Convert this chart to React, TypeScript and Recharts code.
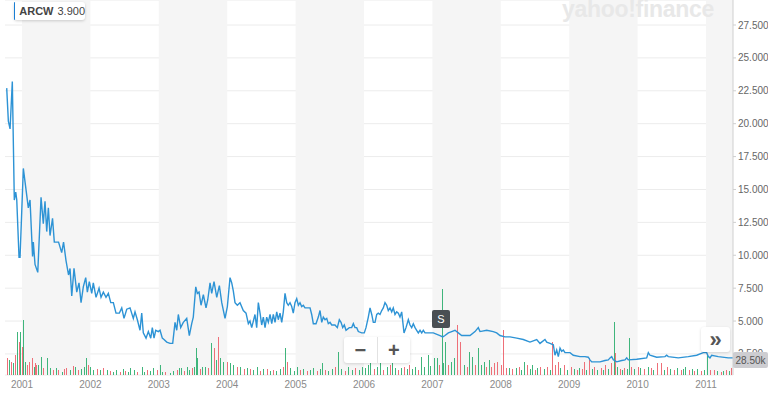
import { ComposedChart, Line, Bar, XAxis, YAxis, CartesianGrid, ReferenceArea } from 'recharts'

// weekly closes, time in decimal years
const priceDates = [
  2000.776, 2000.8, 2000.825, 2000.858, 2000.887, 2000.908, 2000.923, 2000.956, 2000.971, 2001.019,
  2001.092, 2001.117, 2001.154, 2001.165, 2001.19, 2001.23, 2001.278, 2001.311, 2001.336, 2001.361,
  2001.385, 2001.409, 2001.446, 2001.472, 2001.534, 2001.58, 2001.607, 2001.643, 2001.68, 2001.702,
  2001.727, 2001.76, 2001.8, 2001.833, 2001.863, 2001.896, 2001.931, 2001.955, 2001.984, 2002.019,
  2002.042, 2002.082, 2002.126, 2002.155, 2002.189, 2002.228, 2002.262, 2002.297, 2002.335, 2002.374,
  2002.423, 2002.458, 2002.491, 2002.531, 2002.579, 2002.627, 2002.652, 2002.686, 2002.725, 2002.75,
  2002.773, 2002.813, 2002.847, 2002.882, 2002.905, 2002.93, 2002.955, 2002.993, 2003.018, 2003.051,
  2003.076, 2003.116, 2003.164, 2003.203, 2003.237, 2003.262, 2003.285, 2003.32, 2003.358, 2003.408,
  2003.446, 2003.481, 2003.504, 2003.54, 2003.563, 2003.588, 2003.617, 2003.651, 2003.69, 2003.715,
  2003.749, 2003.773, 2003.807, 2003.847, 2003.885, 2003.92, 2003.968, 2004.002, 2004.041, 2004.066,
  2004.089, 2004.114, 2004.148, 2004.187, 2004.235, 2004.275, 2004.309, 2004.333, 2004.358, 2004.382,
  2004.406, 2004.431, 2004.455, 2004.48, 2004.504, 2004.528, 2004.553, 2004.577, 2004.601, 2004.626,
  2004.651, 2004.674, 2004.699, 2004.724, 2004.747, 2004.772, 2004.797, 2004.82, 2004.845, 2004.87,
  2004.893, 2004.918, 2004.943, 2004.966, 2004.991, 2005.016, 2005.04, 2005.064, 2005.089, 2005.113,
  2005.137, 2005.211, 2005.235, 2005.259, 2005.298, 2005.332, 2005.357, 2005.382, 2005.405, 2005.43,
  2005.455, 2005.478, 2005.503, 2005.528, 2005.576, 2005.61, 2005.639, 2005.664, 2005.689, 2005.712,
  2005.737, 2005.785, 2005.82, 2005.844, 2005.868, 2005.893, 2005.917, 2005.966, 2006.004, 2006.029,
  2006.063, 2006.088, 2006.113, 2006.136, 2006.161, 2006.186, 2006.209, 2006.234, 2006.259, 2006.282,
  2006.307, 2006.332, 2006.355, 2006.38, 2006.405, 2006.428, 2006.453, 2006.478, 2006.502, 2006.526,
  2006.551, 2006.585, 2006.614, 2006.648, 2006.673, 2006.697, 2006.721, 2006.746, 2006.77, 2006.794,
  2006.819, 2006.844, 2006.867, 2006.892, 2007.013, 2007.111, 2007.151, 2007.184, 2007.233, 2007.282,
  2007.33, 2007.379, 2007.428, 2007.55, 2007.623, 2007.671, 2007.696, 2007.794, 2007.89, 2007.94,
  2007.988, 2008.061, 2008.135, 2008.233, 2008.329, 2008.427, 2008.525, 2008.573, 2008.646, 2008.671,
  2008.719, 2008.768, 2008.792, 2008.817, 2008.841, 2008.866, 2008.89, 2008.914, 2008.939, 2009.012,
  2009.06, 2009.158, 2009.231, 2009.279, 2009.304, 2009.329, 2009.45, 2009.523, 2009.572, 2009.597,
  2009.621, 2009.645, 2009.695, 2009.768, 2009.816, 2009.841, 2009.864, 2009.987, 2010.133, 2010.157,
  2010.181, 2010.279, 2010.401, 2010.425, 2010.449, 2010.595, 2010.741, 2010.864, 2010.961, 2011.01,
  2011.034, 2011.058, 2011.083, 2011.18, 2011.326, 2011.395,
]

const prices = [
  22.7, 20.2, 19.6, 23.2, 14.2, 14.8, 14.2, 9.85, 9.85, 16.6,
  13.6, 14.2, 9.9, 11.0, 9.3, 8.7, 14.4, 12.4, 14.1, 11.8,
  13.6, 11.5, 12.8, 11.0, 11.0, 10.2, 11.0, 9.6, 8.5, 9.0,
  6.9, 9.0, 7.2, 7.9, 6.4, 7.6, 8.3, 7.2, 8.0, 7.1,
  7.9, 6.8, 7.5, 6.8, 7.2, 6.8, 7.1, 6.4, 6.4, 5.6,
  5.6, 6.0, 5.2, 5.9, 6.0, 5.2, 5.7, 5.1, 4.3, 5.6,
  4.1, 3.7, 4.2, 3.7, 4.5, 3.7, 4.3, 4.2, 4.3, 3.7,
  3.6, 3.4, 3.3, 3.3, 4.9, 4.3, 5.5, 4.5, 4.9, 5.2,
  3.9, 4.8, 5.3, 7.6, 7.1, 7.2, 6.2, 7.0, 6.0, 6.6,
  7.9, 7.1, 8.0, 6.8, 7.7, 6.4, 5.2, 6.1, 8.3, 7.9,
  7.3, 6.4, 6.2, 6.4, 5.8, 5.6, 4.8, 5.0, 4.5, 5.0,
  5.5, 4.5, 6.4, 5.6, 4.7, 5.3, 4.5, 5.3, 4.9, 5.5,
  4.8, 5.5, 4.9, 5.7, 5.1, 5.6, 4.9, 5.7, 7.1, 6.4,
  6.2, 6.4, 6.1, 5.6, 6.4, 6.7, 6.2, 6.4, 6.1, 6.2,
  6.0, 6.0, 5.5, 4.8, 4.8, 5.3, 5.8, 4.9, 5.3, 5.1,
  5.2, 4.8, 4.9, 4.7, 4.7, 4.5, 5.1, 4.9, 4.5, 4.7,
  4.3, 4.5, 4.5, 4.8, 4.5, 4.5, 4.2, 4.1, 4.1, 4.5,
  5.3, 6.0, 5.5, 4.9, 4.9, 5.5, 5.6, 5.5, 5.8, 6.0,
  6.4, 6.2, 5.8, 6.0, 5.7, 6.0, 5.5, 5.7, 5.6, 5.3,
  5.7, 4.1, 4.5, 5.1, 4.7, 4.5, 4.8, 4.5, 4.3, 4.1,
  4.3, 4.1, 4.3, 4.1, 4.1, 3.9, 3.8, 3.9, 4.1, 4.2,
  4.3, 4.1, 3.9, 3.9, 4.2, 4.5, 4.2, 4.3, 4.2, 4.1,
  3.9, 3.8, 3.8, 3.7, 3.6, 3.4, 3.6, 3.3, 3.6, 3.4,
  3.3, 3.2, 2.4, 2.8, 2.3, 2.95, 2.7, 2.8, 2.6, 2.6,
  2.4, 2.3, 2.3, 2.25, 2.05, 1.9, 1.9, 2.0, 2.05, 2.2,
  2.3, 2.05, 1.9, 2.0, 2.05, 2.2, 2.05, 2.1, 2.2, 2.6,
  2.4, 2.25, 2.3, 2.4, 2.3, 2.2, 2.3, 2.4, 2.6, 2.6,
  2.3, 2.2, 2.4, 2.3, 2.2, 2.2,
]

const volDates = [
  2000.78, 2000.81, 2000.84, 2000.87, 2000.9, 2000.92, 2000.95, 2000.97, 2001.0, 2001.02,
  2001.04, 2001.07, 2001.1, 2001.14, 2001.17, 2001.19, 2001.21, 2001.24, 2001.28, 2001.31,
  2001.36, 2001.41, 2001.46, 2001.5, 2001.53, 2001.58, 2001.61, 2001.65, 2001.7, 2001.74,
  2001.77, 2001.82, 2001.86, 2001.9, 2001.94, 2001.97, 2001.99, 2002.04, 2002.09, 2002.14,
  2002.18, 2002.24, 2002.29, 2002.33, 2002.38, 2002.43, 2002.48, 2002.51, 2002.55, 2002.58,
  2002.63, 2002.68, 2002.75, 2002.78, 2002.82, 2002.87, 2002.92, 2002.97, 2003.02, 2003.05,
  2003.09, 2003.16, 2003.21, 2003.26, 2003.3, 2003.33, 2003.37, 2003.41, 2003.44, 2003.48,
  2003.51, 2003.54, 2003.56, 2003.6, 2003.63, 2003.68, 2003.72, 2003.76, 2003.8, 2003.83,
  2003.87, 2003.89, 2003.94, 2003.99, 2004.04, 2004.09, 2004.14, 2004.19, 2004.24, 2004.29,
  2004.33, 2004.38, 2004.43, 2004.48, 2004.53, 2004.58, 2004.63, 2004.67, 2004.72, 2004.77,
  2004.82, 2004.85, 2004.87, 2004.92, 2004.97, 2005.02, 2005.06, 2005.11, 2005.16, 2005.21,
  2005.26, 2005.31, 2005.36, 2005.38, 2005.43, 2005.48, 2005.53, 2005.58, 2005.62, 2005.67,
  2005.72, 2005.77, 2005.82, 2005.87, 2005.92, 2005.97, 2006.01, 2006.06, 2006.09, 2006.14,
  2006.19, 2006.23, 2006.28, 2006.33, 2006.38, 2006.41, 2006.45, 2006.5, 2006.54, 2006.58,
  2006.63, 2006.66, 2006.7, 2006.75, 2006.79, 2006.83, 2006.88, 2006.93, 2006.97, 2007.02,
  2007.07, 2007.1, 2007.14, 2007.16, 2007.19, 2007.23, 2007.27, 2007.32, 2007.36, 2007.41,
  2007.46, 2007.5, 2007.54, 2007.58, 2007.62, 2007.66, 2007.71, 2007.75, 2007.79, 2007.83,
  2007.86, 2007.9, 2007.95, 2008.0, 2008.03, 2008.08, 2008.12, 2008.16, 2008.22, 2008.27,
  2008.3, 2008.34, 2008.39, 2008.43, 2008.46, 2008.5, 2008.53, 2008.58, 2008.63, 2008.68,
  2008.72, 2008.75, 2008.79, 2008.83, 2008.87, 2008.92, 2008.97, 2009.02, 2009.07, 2009.11,
  2009.14, 2009.18, 2009.22, 2009.25, 2009.29, 2009.33, 2009.36, 2009.41, 2009.46, 2009.49,
  2009.53, 2009.57, 2009.61, 2009.65, 2009.67, 2009.7, 2009.74, 2009.77, 2009.8, 2009.84,
  2009.87, 2009.9, 2009.95, 2010.0, 2010.04, 2010.09, 2010.15, 2010.19, 2010.23, 2010.29,
  2010.34, 2010.39, 2010.43, 2010.48, 2010.53, 2010.58, 2010.63, 2010.66, 2010.7, 2010.75,
  2010.8, 2010.83, 2010.87, 2010.92, 2010.97, 2011.02, 2011.06, 2011.12, 2011.16, 2011.22,
  2011.25, 2011.29, 2011.33, 2011.36,
]

// volume in thousands
const volumes = [
  34, 30, 26, 24, 40, 86, 66, 86, 56, 110,
  26, 20, 26, 34, 16, 24, 20, 20, 36, 14,
  34, 14, 10, 14, 10, 6, 12, 14, 10, 18,
  16, 10, 12, 16, 34, 20, 16, 10, 12, 10,
  14, 10, 8, 6, 10, 6, 12, 8, 6, 14,
  10, 6, 16, 6, 10, 8, 14, 10, 20, 6,
  6, 4, 8, 10, 14, 14, 8, 16, 10, 14,
  16, 54, 34, 12, 16, 16, 14, 64, 54, 30,
  76, 34, 26, 26, 24, 20, 16, 16, 12, 14,
  12, 10, 16, 8, 12, 12, 8, 10, 8, 12,
  16, 54, 26, 14, 8, 16, 10, 12, 8, 10,
  14, 8, 12, 24, 10, 8, 12, 16, 46, 12,
  8, 16, 10, 14, 10, 16, 14, 20, 26, 12,
  16, 24, 10, 16, 20, 24, 14, 10, 14, 16,
  12, 20, 12, 16, 10, 36, 16, 40, 18, 34,
  34, 20, 172, 24, 66, 20, 26, 34, 100, 66,
  20, 16, 46, 36, 20, 54, 20, 26, 16, 30,
  16, 24, 26, 20, 90, 14, 14, 12, 14, 16,
  10, 26, 20, 12, 20, 10, 14, 16, 12, 16,
  10, 66, 20, 26, 14, 20, 10, 16, 12, 10,
  14, 12, 26, 10, 34, 12, 16, 10, 14, 10,
  20, 12, 24, 106, 44, 16, 12, 10, 14, 12,
  74, 16, 12, 16, 14, 12, 16, 14, 10, 24,
  24, 10, 16, 12, 10, 14, 10, 12, 16, 10,
  12, 8, 12, 8, 10, 40, 10, 10, 8, 6,
  8, 10, 8, 14,
]

// 1 = close up (green), 0 = close down (red)
const volUp = [
  0, 1, 0, 1, 0, 1, 0, 1, 0, 1,
  1, 0, 0, 0, 1, 0, 0, 1, 1, 0,
  1, 1, 0, 1, 0, 1, 0, 0, 1, 0,
  1, 0, 1, 1, 1, 0, 1, 1, 0, 1,
  0, 1, 0, 1, 1, 0, 1, 0, 1, 1,
  1, 0, 1, 1, 0, 1, 1, 0, 1, 1,
  0, 1, 1, 0, 1, 1, 0, 1, 1, 0,
  1, 1, 1, 0, 1, 1, 0, 1, 0, 1,
  0, 1, 1, 0, 1, 1, 0, 1, 0, 1,
  0, 1, 1, 0, 1, 0, 1, 0, 1, 1,
  0, 1, 0, 1, 1, 1, 0, 1, 0, 1,
  1, 0, 1, 1, 0, 1, 1, 0, 1, 1,
  0, 1, 1, 0, 1, 1, 1, 1, 1, 0,
  1, 1, 0, 1, 0, 1, 1, 0, 1, 0,
  1, 0, 1, 1, 0, 1, 1, 1, 1, 1,
  1, 0, 1, 1, 1, 0, 1, 1, 0, 0,
  1, 0, 1, 1, 0, 1, 1, 1, 0, 1,
  0, 0, 0, 0, 0, 0, 1, 0, 1, 0,
  1, 1, 0, 1, 1, 0, 1, 0, 1, 0,
  1, 0, 0, 0, 1, 0, 1, 0, 1, 0,
  1, 0, 0, 1, 0, 1, 0, 1, 0, 1,
  0, 1, 0, 1, 0, 1, 0, 1, 0, 1,
  1, 0, 1, 0, 1, 0, 1, 0, 1, 0,
  0, 1, 0, 1, 0, 1, 0, 1, 1, 0,
  1, 0, 1, 0, 1, 1, 0, 0, 1, 0,
  1, 0, 1, 0,
]

const yearTicks = [2001, 2002, 2003, 2004, 2005, 2006, 2007, 2008, 2009, 2010, 2011]
const shadedYears = [2001, 2003, 2005, 2007, 2009, 2011]
const priceTicks = [2.5, 5, 7.5, 10, 12.5, 15, 17.5, 20, 22.5, 25, 27.5]

const rows: any[] = [
  ...priceDates.map((t, i) => ({ t, price: prices[i] })),
  ...volDates.map((t, i) => ({ t, vol: volumes[i], up: volUp[i] })),
].sort((a, b) => a.t - b.t)

const font = '"Liberation Sans", Arial, sans-serif'

// thin crisp volume stick
const VolumeStick = (props: any) => {
  const { x, y, width, height, payload } = props
  if (!height || height <= 0) return null
  const cx = Math.round(x + width / 2)
  return (
    <rect
      x={cx}
      y={y}
      width={1}
      height={height}
      fill={payload.up ? '#3fb57b' : '#ee6f78'}
      shapeRendering="crispEdges"
    />
  )
}

export default function App() {
  return (
    <div style={{ position: 'absolute', left: 0, top: 0, width: 768, height: 398, fontFamily: font, background: '#fff' }}>
      <ComposedChart width={768} height={398} data={rows} margin={{ top: 0, right: 0, left: 5, bottom: 0 }}>
        {shadedYears.map(y => (
          <ReferenceArea
            key={y}
            x1={y}
            x2={y + 1}
            yAxisId="price"
            fill="#f5f5f5"
            fillOpacity={1}
            stroke="none"
            ifOverflow="hidden"
          />
        ))}
        <CartesianGrid yAxisId="price" vertical={false} stroke="#ececec" />
        <XAxis
          dataKey="t"
          type="number"
          domain={[2000.751, 2011.395]}
          allowDataOverflow
          ticks={yearTicks}
          tickFormatter={v => String(v)}
          tick={{ fontSize: 10, fill: '#8a8a8a', fontFamily: font }}
          tickLine={false}
          axisLine={false}
          tickSize={0}
          tickMargin={6}
          height={23}
        />
        <YAxis
          yAxisId="price"
          orientation="right"
          domain={[0.9, 29.4]}
          allowDataOverflow
          ticks={priceTicks}
          tickFormatter={v => v.toFixed(3)}
          tick={{ fontSize: 10, fill: '#666', fontFamily: font, textAnchor: 'start' }}
          tickSize={3}
          tickMargin={2}
          stroke="#cfcfcf"
          width={35}
        />
        <YAxis yAxisId="vol" hide domain={[0, 750]} allowDataOverflow />
        <Bar yAxisId="vol" dataKey="vol" barSize={1} shape={VolumeStick} isAnimationActive={false} />
        <Line
          yAxisId="price"
          dataKey="price"
          type="linear"
          stroke="#2d93d5"
          strokeWidth={1.4}
          dot={false}
          connectNulls
          isAnimationActive={false}
        />
      </ComposedChart>

      {/* watermark */}
      <div style={{ position: 'absolute', left: 562, top: -4, fontSize: 23, fontWeight: 900, color: '#e8e8e8', letterSpacing: -0.3, lineHeight: '26px' }}>
        yahoo!finance
      </div>

      {/* symbol label */}
      <div style={{ position: 'absolute', left: 14, top: 2, height: 18, width: 71, background: '#fff', boxShadow: '0 1px 3px rgba(0,0,0,0.18)', borderRadius: 3, display: 'flex', alignItems: 'center', fontSize: 11, color: '#444' }}>
        <div style={{ width: 4, height: 18, background: '#1a7fd4', borderRadius: '3px 0 0 3px', marginRight: 5 }} />
        <span style={{ fontWeight: 600 }}>ARCW</span>
        <span style={{ marginLeft: 4 }}>3.900</span>
      </div>

      {/* zoom buttons */}
      <div style={{ position: 'absolute', left: 344, top: 337, width: 66, height: 26, background: '#fff', boxShadow: '0 1px 3px rgba(0,0,0,0.15)', borderRadius: 3, display: 'flex', color: '#555', fontSize: 20, fontWeight: 700 }}>
        <div style={{ flex: 1, display: 'flex', alignItems: 'center', justifyContent: 'center', borderRight: '1px solid #e2e2e2' }}>−</div>
        <div style={{ flex: 1, display: 'flex', alignItems: 'center', justifyContent: 'center' }}>+</div>
      </div>

      {/* split marker */}
      <div style={{ position: 'absolute', left: 432, top: 310, width: 18, height: 18, background: '#4a4f53', color: '#fff', fontSize: 11, borderRadius: 2, display: 'flex', alignItems: 'center', justifyContent: 'center' }}>
        S
      </div>

      {/* scroll button */}
      <div style={{ position: 'absolute', left: 701, top: 327, width: 29, height: 25, background: '#fff', boxShadow: '0 1px 3px rgba(0,0,0,0.15)', borderRadius: 3, display: 'flex', alignItems: 'center', justifyContent: 'center', color: '#555', fontSize: 22, fontWeight: 700 }}>
        »
      </div>

      {/* last volume */}
      <div style={{ position: 'absolute', left: 733, top: 352, width: 35, height: 16, background: '#cdcdd1', color: '#555', fontSize: 10, borderRadius: 2, display: 'flex', alignItems: 'center', justifyContent: 'center' }}>
        28.50k
      </div>
    </div>
  )
}
